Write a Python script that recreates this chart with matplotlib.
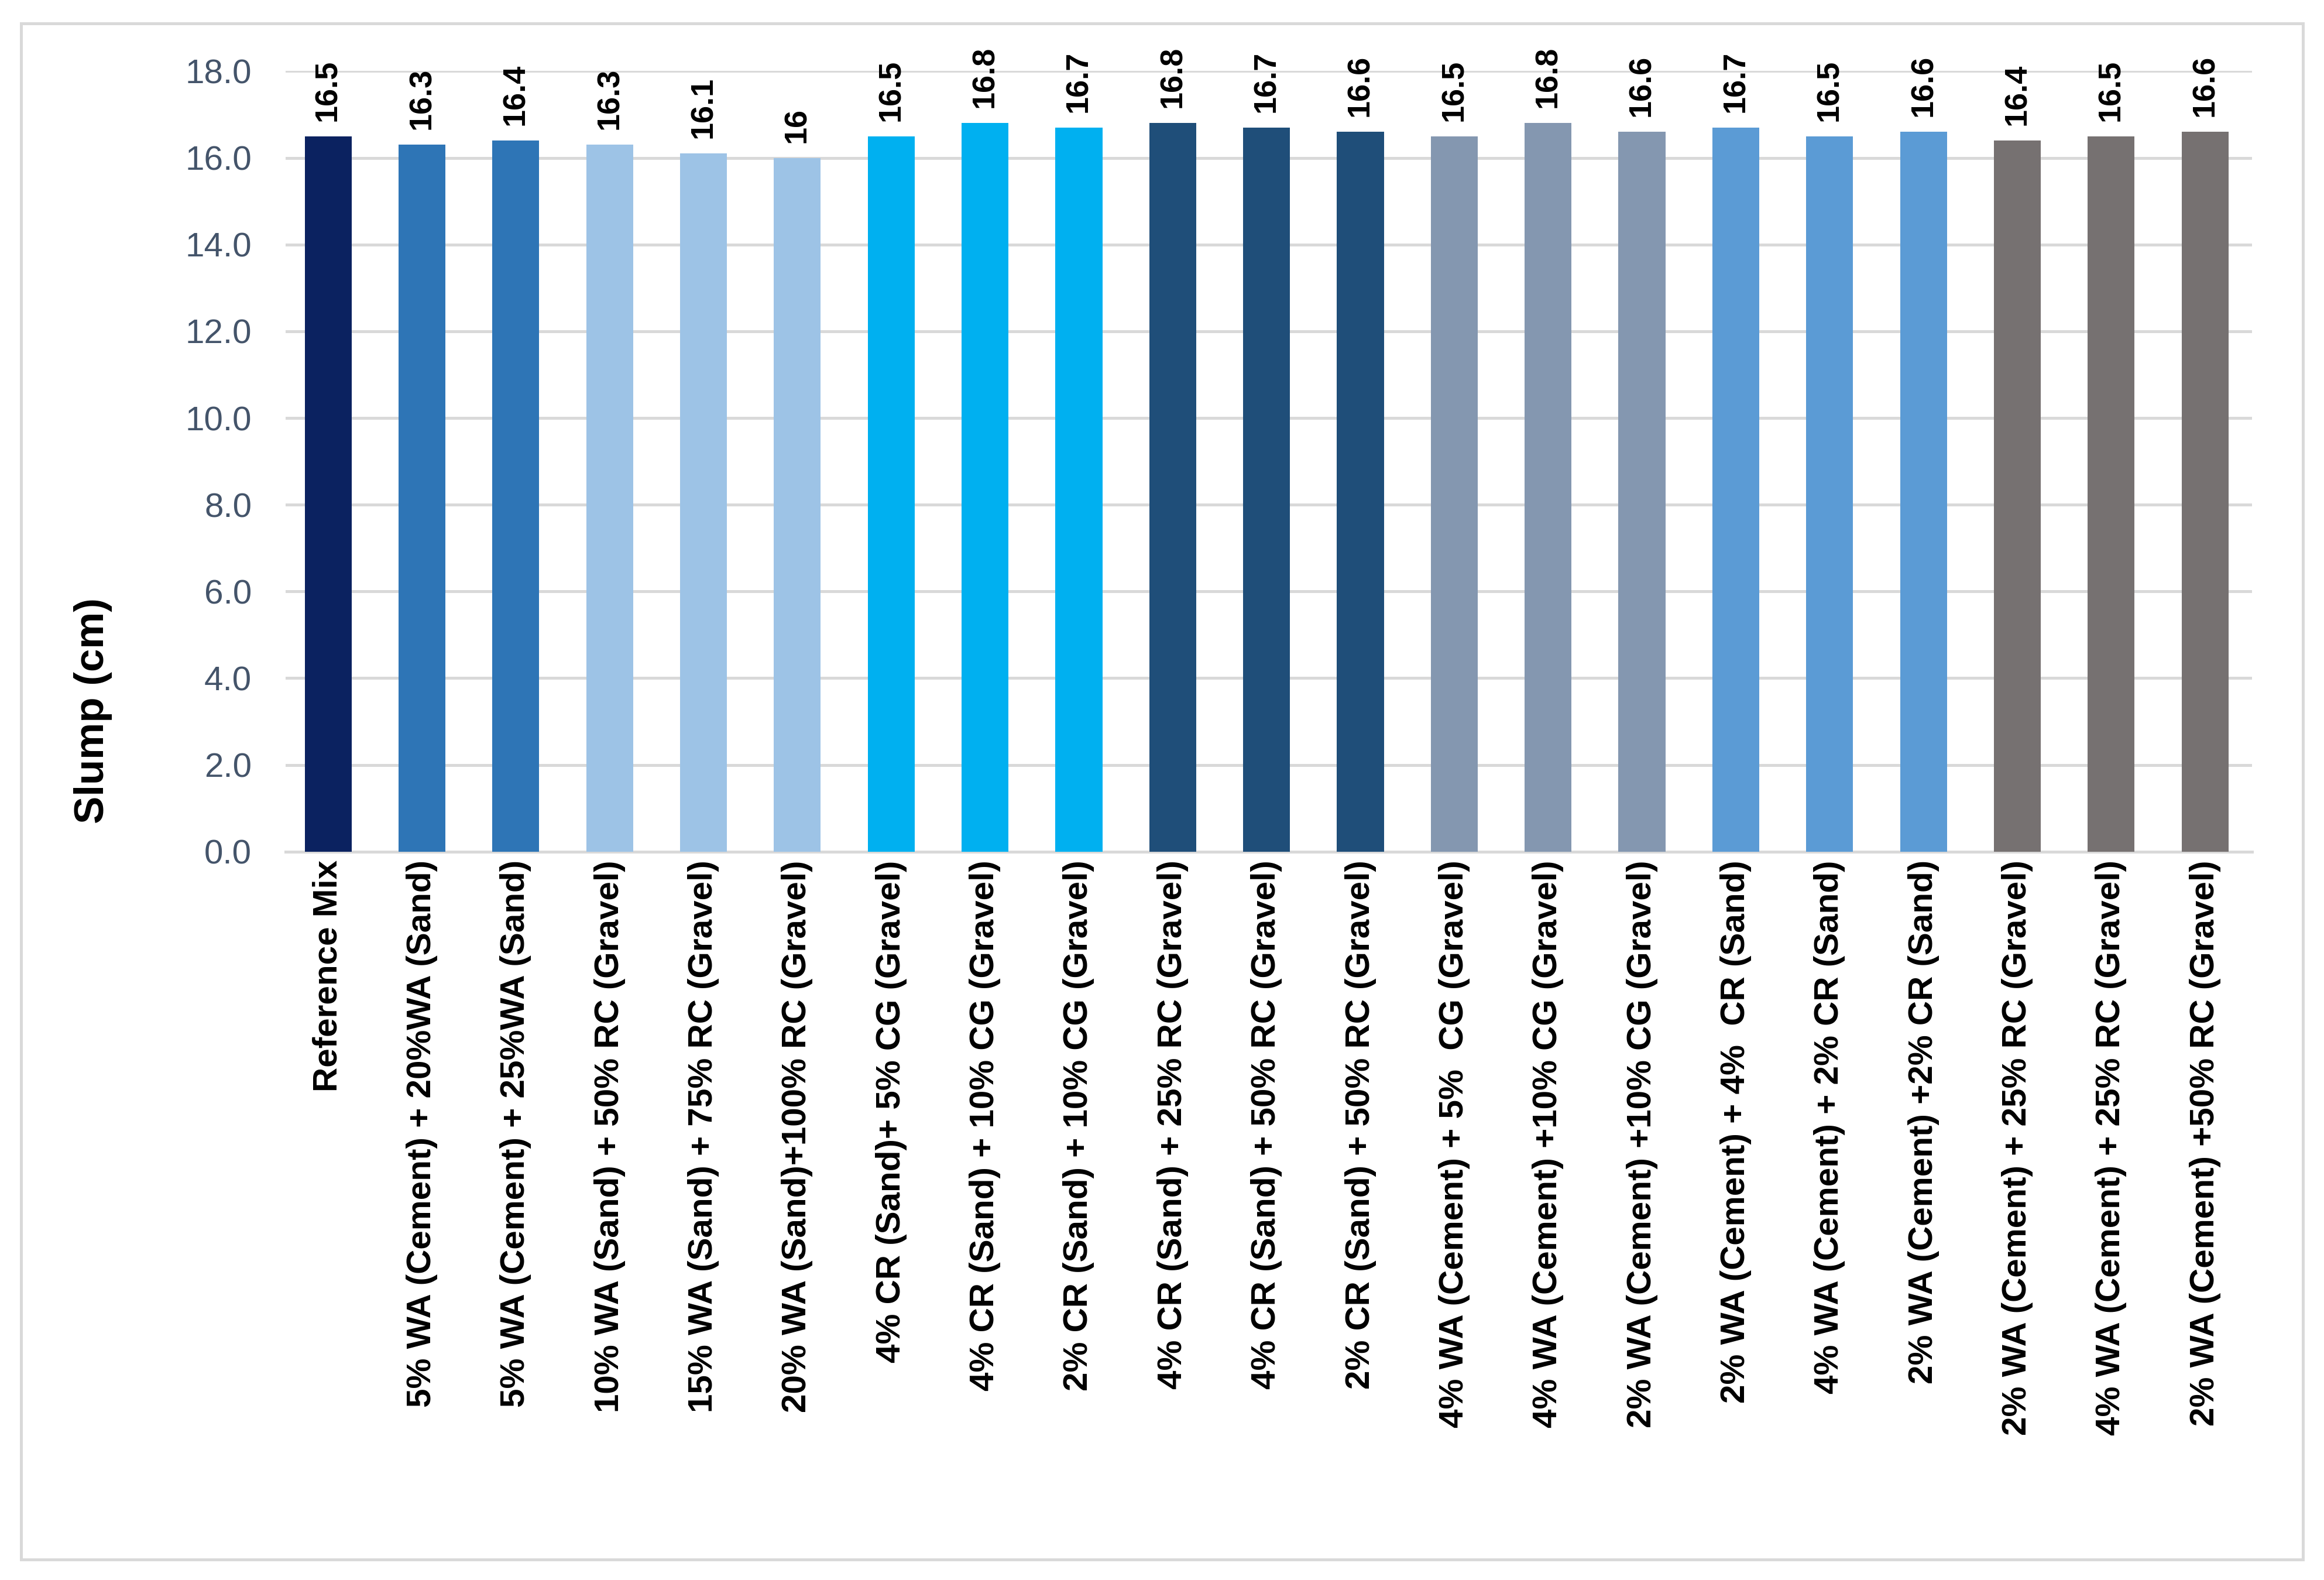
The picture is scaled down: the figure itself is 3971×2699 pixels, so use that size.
import matplotlib.pyplot as plt
from matplotlib.patches import Rectangle

plt.rcParams["font.family"] = ["Liberation Sans", "DejaVu Sans"]

labels = [
    "Reference Mix",
    "5% WA (Cement) + 20%WA (Sand)",
    "5% WA (Cement) + 25%WA (Sand)",
    "10% WA (Sand) + 50% RC (Gravel)",
    "15% WA (Sand) + 75% RC (Gravel)",
    "20% WA (Sand)+100% RC (Gravel)",
    "4% CR (Sand)+ 5% CG (Gravel)",
    "4% CR (Sand) + 10% CG (Gravel)",
    "2% CR (Sand) + 10% CG (Gravel)",
    "4% CR (Sand) + 25% RC (Gravel)",
    "4% CR (Sand) + 50% RC (Gravel)",
    "2% CR (Sand) + 50% RC (Gravel)",
    "4% WA (Cement) + 5%  CG (Gravel)",
    "4% WA (Cement) +10% CG (Gravel)",
    "2% WA (Cement) +10% CG (Gravel)",
    "2% WA (Cement) + 4%  CR (Sand)",
    "4% WA (Cement) + 2% CR (Sand)",
    "2% WA (Cement) +2% CR (Sand)",
    "2% WA (Cement) + 25% RC (Gravel)",
    "4% WA (Cement) + 25% RC (Gravel)",
    "2% WA (Cement) +50% RC (Gravel)",
]
slump = [16.5, 16.3, 16.4, 16.3, 16.1, 16.0, 16.5, 16.8, 16.7, 16.8, 16.7,
         16.6, 16.5, 16.8, 16.6, 16.7, 16.5, 16.6, 16.4, 16.5, 16.6]
value_text = ["16.5", "16.3", "16.4", "16.3", "16.1", "16", "16.5", "16.8", "16.7",
              "16.8", "16.7", "16.6", "16.5", "16.8", "16.6", "16.7", "16.5",
              "16.6", "16.4", "16.5", "16.6"]
colors = ["#0B2260", "#2E75B6", "#2E75B6", "#9DC3E6", "#9DC3E6", "#9DC3E6",
          "#00B0F0", "#00B0F0", "#00B0F0", "#1F4E79", "#1F4E79", "#1F4E79",
          "#8497B0", "#8497B0", "#8497B0", "#5B9BD5", "#5B9BD5", "#5B9BD5",
          "#767171", "#767171", "#767171"]

fig = plt.figure(figsize=(3971 / 300, 2699 / 300), dpi=300)
fig.patches.append(Rectangle((0.009, 0.013), 0.982, 0.972, transform=fig.transFigure,
                             fill=False, edgecolor="#D9D9D9", linewidth=1.2))
ax = fig.add_axes([0.123, 0.461, 0.846, 0.494])
x = range(len(labels))
ax.bar(x, slump, width=0.5, color=colors, zorder=3)
for i, (v, t) in enumerate(zip(slump, value_text)):
    ax.text(i, v + 0.35, t, rotation=90, ha="center", va="bottom",
            fontsize=13, fontweight="bold", clip_on=False)

ax.set_ylim(0, 18)
ax.set_xlim(-0.45, len(labels) - 0.5)
ax.set_yticks([0, 2, 4, 6, 8, 10, 12, 14, 16, 18])
ax.set_yticklabels([f"{t:.1f}" for t in ax.get_yticks()], fontsize=14, color="#44546A")
ax.set_xticks(list(x))
ax.set_xticklabels(labels, rotation=90, fontsize=14, fontweight="bold")
ax.tick_params(axis="both", length=0)
ax.tick_params(axis="y", pad=14)
ax.grid(axis="y", color="#D9D9D9", linewidth=1.2, zorder=0)
for s in ["top", "right", "left"]:
    ax.spines[s].set_visible(False)
ax.spines["bottom"].set_color("#D9D9D9")
ax.spines["bottom"].set_linewidth(1.2)
fig.text(0.04, 0.55, "Slump (cm)", rotation=90, ha="center", va="center",
         fontsize=17, fontweight="bold")

fig.savefig("out.png", dpi=300)
